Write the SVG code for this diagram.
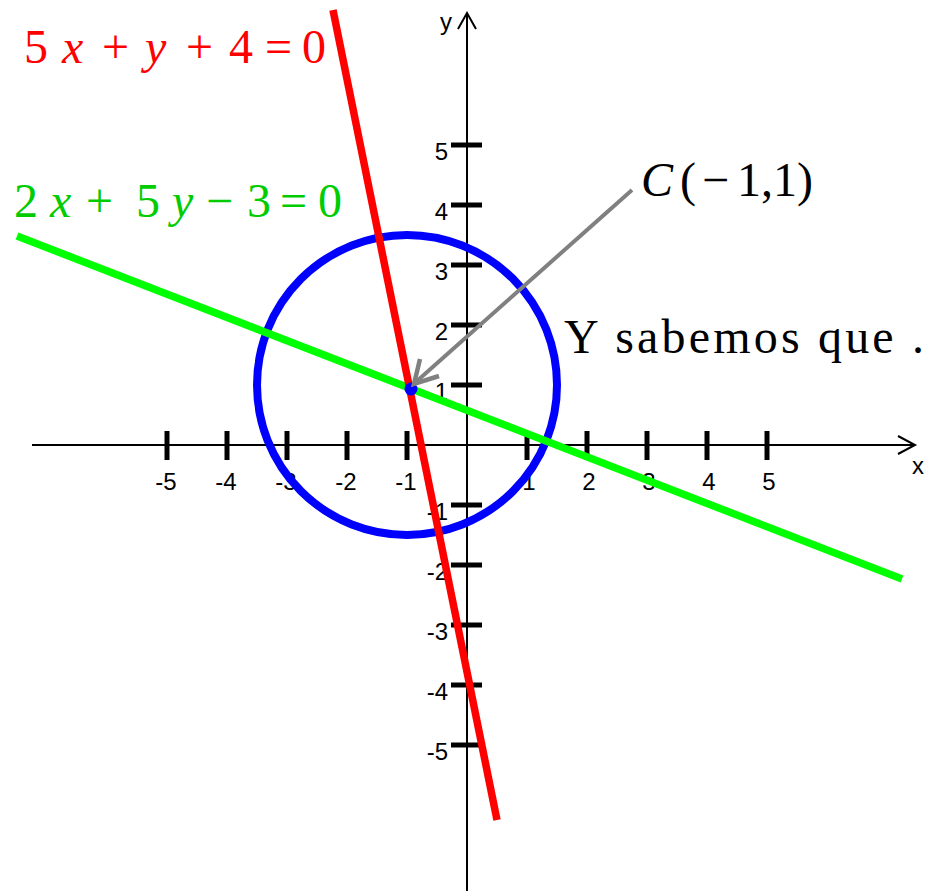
<svg xmlns="http://www.w3.org/2000/svg" width="926" height="891" viewBox="0 0 926 891">
<style>
.ax{stroke:#000;stroke-width:2;fill:none}
.tk{stroke:#000;stroke-width:5}
.lb{font-family:"Liberation Sans",Arial,sans-serif;font-size:24px;fill:#000}
.eq{font-family:"Liberation Serif","DejaVu Serif",serif;font-size:48px}
.it{font-style:italic}
</style>
<rect width="926" height="891" fill="#fff"/>
<g id="axes">
<line class="ax" x1="32" y1="445" x2="915" y2="445"/>
<polyline class="ax" points="898,436 915,445 898,454"/>
<line class="ax" x1="467" y1="891" x2="467" y2="13"/>
<polyline class="ax" points="458,29 467,13 476,29"/>
<text class="lb" x="912" y="474">x</text>
<text class="lb" x="440" y="30">y</text>
<g id="xticks">
<line class="tk" x1="167" y1="431" x2="167" y2="460"/>
<line class="tk" x1="227" y1="431" x2="227" y2="460"/>
<line class="tk" x1="287" y1="431" x2="287" y2="460"/>
<line class="tk" x1="347" y1="431" x2="347" y2="460"/>
<line class="tk" x1="407" y1="431" x2="407" y2="460"/>
<line class="tk" x1="527" y1="431" x2="527" y2="460"/>
<line class="tk" x1="587" y1="431" x2="587" y2="460"/>
<line class="tk" x1="647" y1="431" x2="647" y2="460"/>
<line class="tk" x1="707" y1="431" x2="707" y2="460"/>
<line class="tk" x1="767" y1="431" x2="767" y2="460"/>
</g>
<g id="xlabels" class="lb" text-anchor="middle">
<text x="166" y="490">-5</text>
<text x="226" y="490">-4</text>
<text x="286" y="490">-3</text>
<text x="346" y="490">-2</text>
<text x="406" y="490">-1</text>
<text x="529" y="490">1</text>
<text x="589" y="490">2</text>
<text x="649" y="490">3</text>
<text x="709" y="490">4</text>
<text x="769" y="490">5</text>
</g>
<g id="yticks">
<line class="tk" x1="451" y1="145" x2="482" y2="145"/>
<line class="tk" x1="451" y1="205" x2="482" y2="205"/>
<line class="tk" x1="451" y1="265" x2="482" y2="265"/>
<line class="tk" x1="451" y1="325" x2="482" y2="325"/>
<line class="tk" x1="451" y1="385" x2="482" y2="385"/>
<line class="tk" x1="451" y1="505" x2="482" y2="505"/>
<line class="tk" x1="451" y1="565" x2="482" y2="565"/>
<line class="tk" x1="451" y1="625" x2="482" y2="625"/>
<line class="tk" x1="451" y1="685" x2="482" y2="685"/>
<line class="tk" x1="451" y1="745" x2="482" y2="745"/>
</g>
<g id="ylabels" class="lb" text-anchor="end">
<text x="448" y="160">5</text>
<text x="448" y="220">4</text>
<text x="448" y="280">3</text>
<text x="448" y="340">2</text>
<text x="448" y="400">1</text>
<text x="448" y="520">-1</text>
<text x="448" y="580">-2</text>
<text x="448" y="640">-3</text>
<text x="448" y="700">-4</text>
<text x="448" y="760">-5</text>
</g>
</g>
<g id="circle">
<circle cx="407" cy="385" r="150" fill="none" stroke="#0000ff" stroke-width="8"/>
</g>
<g id="green-line">
<line x1="17" y1="236" x2="902" y2="579" stroke="#00ff00" stroke-width="7.5"/>
</g>
<g id="red-line">
<line x1="333" y1="10" x2="497" y2="820" stroke="#ff0000" stroke-width="7.5"/>
</g>
<g id="center-dot">
<circle cx="411" cy="389" r="6.5" fill="#0000ff"/>
</g>
<g id="connectors">
<line x1="632" y1="190" x2="417" y2="381" stroke="#808080" stroke-width="4"/>
<polyline points="420,359 414,384 439,376" fill="none" stroke="#808080" stroke-width="4.5"/>
</g>
<g id="labels">
<text class="eq" y="63" fill="#ff0000"><tspan x="24">5</tspan><tspan class="it" x="62">x</tspan><tspan x="102">+</tspan><tspan class="it" x="145">y</tspan><tspan x="186">+</tspan><tspan x="229">4</tspan><tspan x="265">=</tspan><tspan x="302">0</tspan></text>
<text class="eq" y="217" fill="#00cc00"><tspan x="14">2</tspan><tspan class="it" x="50">x</tspan><tspan x="86">+</tspan><tspan x="136">5</tspan><tspan class="it" x="172">y</tspan><tspan x="206">−</tspan><tspan x="247">3</tspan><tspan x="280">=</tspan><tspan x="318">0</tspan></text>
<text class="eq" y="196" font-size="44" fill="#000"><tspan class="it" x="641">C</tspan><tspan x="680">(</tspan><tspan x="702">−</tspan><tspan x="737">1,1)</tspan></text>
<text class="eq" x="564" y="353" font-size="47" fill="#000" textLength="360" lengthAdjust="spacing">Y sabemos que .</text>
</g>
</svg>
